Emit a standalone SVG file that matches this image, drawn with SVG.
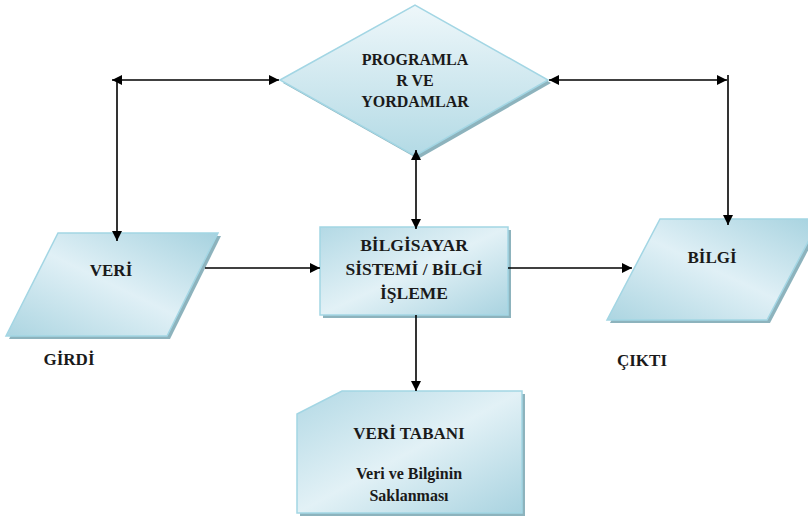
<svg xmlns="http://www.w3.org/2000/svg" width="808" height="517" viewBox="0 0 808 517">
<defs>
<linearGradient id="gBox" x1="0" y1="0" x2="1" y2="1">
<stop offset="0" stop-color="#b3d9e5"/>
<stop offset="0.5" stop-color="#e2f1f6"/>
<stop offset="1" stop-color="#a9d3e0"/>
</linearGradient>
<linearGradient id="gPara" x1="1" y1="0" x2="0" y2="1">
<stop offset="0" stop-color="#a6d2df"/>
<stop offset="0.5" stop-color="#e0f0f6"/>
<stop offset="1" stop-color="#acd5e1"/>
</linearGradient>
<linearGradient id="gDia" x1="0" y1="0" x2="0" y2="1">
<stop offset="0" stop-color="#eef7fa"/>
<stop offset="1" stop-color="#b3dae5"/>
</linearGradient>
<marker id="arr" markerUnits="userSpaceOnUse" markerWidth="12" markerHeight="10" refX="10" refY="5" orient="auto-start-reverse">
<path d="M0,0 L10,5 L0,10 Z" fill="#000"/>
</marker>
<style>
.shadow{fill:#8db3bd}
.shape{stroke:#a3d6e4;stroke-width:1.5}
.t{font-family:"Liberation Serif","DejaVu Serif",serif;font-weight:bold;fill:#1a1a1a;text-anchor:middle}
.c{stroke:#000;stroke-width:1.6;fill:none}
</style>
</defs>

<g id="programlar">
<polygon class="shadow" points="283,83 418,8 551,83 418,159"/>
<polygon class="shape" fill="url(#gDia)" points="280,80 415,5 548,80 415,156"/>
<text class="t" font-size="16" x="415" y="65">PROGRAMLA</text>
<text class="t" font-size="16" x="415" y="86">R VE</text>
<text class="t" font-size="16" x="415" y="107">YORDAMLAR</text>
</g>

<g id="veri">
<polygon class="shadow" points="61,236 221,236 170,339 9,339"/>
<polygon class="shape" fill="url(#gPara)" points="58,233 218,233 167,336 6,336"/>
<text class="t" font-size="17" x="111" y="276">VERİ</text>
</g>

<g id="bilgisayar">
<rect class="shadow" x="323" y="230" width="188" height="88"/>
<rect class="shape" fill="url(#gBox)" x="320" y="227" width="188" height="88"/>
<text class="t" font-size="17.5" x="414" y="251">BİLGİSAYAR</text>
<text class="t" font-size="17.5" x="414" y="275">SİSTEMİ / BİLGİ</text>
<text class="t" font-size="17.5" x="414" y="299">İŞLEME</text>
</g>

<g id="bilgi">
<polygon class="shadow" points="663,222 823,222 770,323 610,323"/>
<polygon class="shape" fill="url(#gPara)" points="660,219 820,219 767,320 607,320"/>
<text class="t" font-size="17" x="712" y="263">BİLGİ</text>
</g>

<g id="veritabani">
<polygon class="shadow" points="345,394 525,394 525,516 300,516 300,417"/>
<polygon class="shape" fill="url(#gBox)" points="342,391 522,391 522,513 297,513 297,414"/>
<text class="t" font-size="17" x="409" y="439">VERİ TABANI</text>
<text class="t" font-size="16" x="409" y="479">Veri ve Bilginin</text>
<text class="t" font-size="16" x="409" y="501">Saklanması</text>
</g>

<g id="labels">
<text class="t" font-size="17" x="69" y="365">GİRDİ</text>
<text class="t" font-size="17" x="642" y="366">ÇIKTI</text>
</g>

<g id="connectors">
<line class="c" x1="112" y1="80" x2="279" y2="80" marker-start="url(#arr)" marker-end="url(#arr)"/>
<line class="c" x1="117" y1="80" x2="117" y2="241" marker-end="url(#arr)"/>
<line class="c" x1="549" y1="80" x2="727" y2="80" marker-start="url(#arr)" marker-end="url(#arr)"/>
<line class="c" x1="728" y1="75" x2="728" y2="225" marker-end="url(#arr)"/>
<line class="c" x1="416" y1="150" x2="416" y2="229" marker-start="url(#arr)" marker-end="url(#arr)"/>
<line class="c" x1="205" y1="268" x2="320" y2="268" marker-end="url(#arr)"/>
<line class="c" x1="508" y1="268" x2="632" y2="268" marker-end="url(#arr)"/>
<line class="c" x1="416" y1="315" x2="416" y2="391" marker-end="url(#arr)"/>
</g>
</svg>
